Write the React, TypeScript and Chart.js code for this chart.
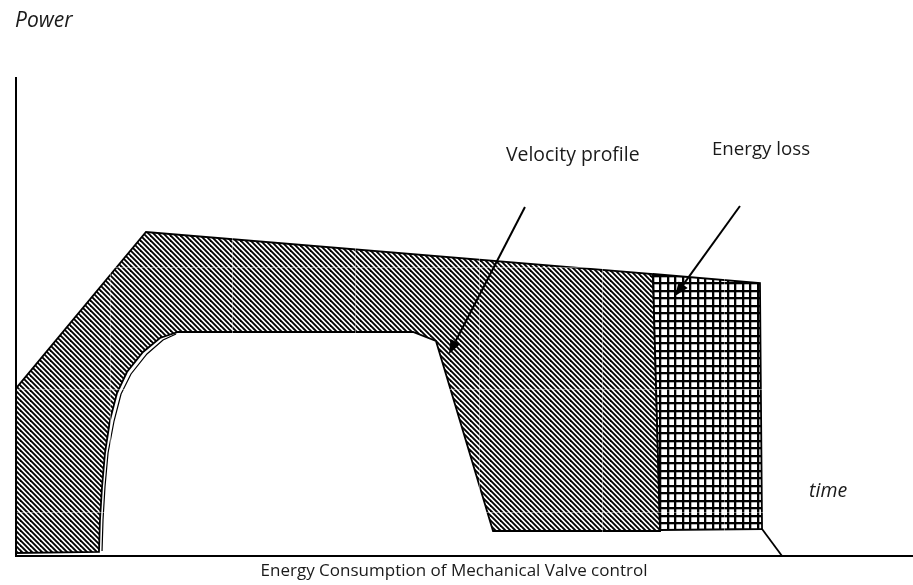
import React, { useEffect, useRef } from "react";
import { Chart, registerables } from "chart.js";

Chart.register(...registerables);

// Time axis 0..100, power axis 0..100 (arbitrary units)
const HATCH_T = [0, 14.49, 71.01, 71.8, 53.18, 46.82, 44.26, 18.06, 16.05, 14.16, 12.37, 11.26, 10.48, 9.92, 9.59, 9.36, 9.25, 0, 0];
const HATCH_P = [35.08, 67.78, 59.0, 5.23, 5.23, 44.98, 46.86, 46.86, 45.61, 42.68, 38.49, 34.1, 28.45, 21.55, 14.44, 7.53, 0.84, 0.63, 35.08];

const INNER_T = [17.84, 16.39, 14.6, 12.82, 11.71, 10.93, 10.26, 9.92, 9.7, 9.59];
const INNER_P = [46.44, 45.19, 42.26, 38.08, 33.89, 28.24, 21.55, 14.44, 7.53, 1.05];

const LOSS_T = [71.01, 82.94, 83.17, 71.8, 71.01];
const LOSS_P = [59.0, 57.11, 5.65, 5.44, 59.0];

const TAIL_T = [83.17, 85.4];
const TAIL_P = [5.65, 0];

const GRID_T = [10.48, 24.19, 37.9, 51.62, 65.33, 79.04, 92.75];
const GRID_P = [9.0, 34.73, 60.46, 86.19];

const ARROW_VELOCITY = [56.74, 73.01, 48.27, 42.26];
const ARROW_LOSS = [80.71, 73.22, 73.47, 54.39];

const LABEL_TEXT = ["Power", "Velocity profile", "Energy loss", "time"];
const LABEL_T = [-0.11, 54.63, 77.59, 88.41];
const LABEL_P = [110.67, 82.64, 83.89, 12.34];
const LABEL_SIZE = [21, 19.4, 18.7, 19.5];
const LABEL_ITALIC = [true, false, false, true];

const TITLE = "Energy Consumption of Mechanical Valve control";
const TITLE_T = 48.83; // horizontal centre of the caption, in time units
const TITLE_P = -4.18; // caption baseline, in power units

const FONT = "'Open Sans', sans-serif";

function pts(t: number[], p: number[]) {
  return t.map((x, i) => ({ x, y: p[i] }));
}

function makeHatch(): CanvasPattern | string {
  const p = 5;
  const size = 10;
  const c = document.createElement("canvas");
  c.width = size;
  c.height = size;
  const g = c.getContext("2d");
  if (!g) return "#888";
  g.fillStyle = "#fff";
  g.fillRect(0, 0, size, size);
  g.strokeStyle = "#000";
  g.lineWidth = 1.9;
  for (let k = -6; k <= 6; k++) {
    g.beginPath();
    g.moveTo(k * p - 2, -2);
    g.lineTo(k * p + size + 2, size + 2);
    g.stroke();
  }
  return g.createPattern(c, "repeat") || "#888";
}

function makeGrid(): CanvasPattern | string {
  const size = 15;
  const c = document.createElement("canvas");
  c.width = size;
  c.height = size;
  const g = c.getContext("2d");
  if (!g) return "#888";
  g.fillStyle = "#fff";
  g.fillRect(0, 0, size, size);
  g.fillStyle = "rgba(0,0,0,0.3)";
  for (const o of [9, 1]) g.fillRect(o, 0, 1, size);
  for (const o of [7, 14]) g.fillRect(0, o, size, 1);
  g.fillStyle = "#000";
  for (const o of [7, 14]) {
    g.fillRect(o, 0, 2, size);
    g.fillRect(o - size, 0, 2, size);
  }
  for (const o of [5, 12]) {
    g.fillRect(0, o, size, 2);
  }
  return g.createPattern(c, "repeat") || "#888";
}

const annotations = {
  id: "annotations",
  afterDraw(chart: any) {
    const { ctx, scales } = chart;
    const xs = scales.x;
    const ys = scales.y;
    const px = (v: number) => xs.getPixelForValue(v);
    const py = (v: number) => ys.getPixelForValue(v);
    ctx.save();
    const arrow = (a: number[]) => {
      const x0 = px(a[0]), y0 = py(a[1]), x1 = px(a[2]), y1 = py(a[3]);
      const ang = Math.atan2(y1 - y0, x1 - x0);
      const len = 14, half = 5.5;
      const bx = x1 - len * Math.cos(ang), by = y1 - len * Math.sin(ang);
      ctx.strokeStyle = "#000";
      ctx.lineWidth = 2;
      ctx.beginPath();
      ctx.moveTo(x0, y0);
      ctx.lineTo(bx, by);
      ctx.stroke();
      ctx.fillStyle = "#000";
      ctx.beginPath();
      ctx.moveTo(x1, y1);
      ctx.lineTo(bx + half * Math.sin(ang), by - half * Math.cos(ang));
      ctx.lineTo(bx - half * Math.sin(ang), by + half * Math.cos(ang));
      ctx.closePath();
      ctx.fill();
    };
    arrow(ARROW_VELOCITY);
    arrow(ARROW_LOSS);
    ctx.fillStyle = "#1a1a1a";
    ctx.textAlign = "left";
    ctx.textBaseline = "alphabetic";
    LABEL_TEXT.forEach((t, i) => {
      ctx.font = (LABEL_ITALIC[i] ? "italic " : "") + LABEL_SIZE[i] + "px " + FONT;
      ctx.fillText(t, px(LABEL_T[i]), py(LABEL_P[i]));
    });
    ctx.font = "17px " + FONT;
    ctx.textAlign = "center";
    ctx.fillText(TITLE, px(TITLE_T), py(TITLE_P));
    ctx.restore();
  },
};

export default function App() {
  const ref = useRef<HTMLCanvasElement | null>(null);
  useEffect(() => {
    if (!ref.current) return;
    const hatch = makeHatch();
    const grid = makeGrid();
    const chart = new Chart(ref.current, {
      type: "scatter",
      data: {
        datasets: [
          {
            data: pts(TAIL_T, TAIL_P),
            showLine: true,
            borderColor: "#000",
            borderWidth: 1.8,
            pointRadius: 0,
            fill: false,
            clip: false,
          } as any,
          {
            data: pts(INNER_T, INNER_P),
            showLine: true,
            borderColor: "#000",
            borderWidth: 1.2,
            pointRadius: 0,
            fill: false,
            clip: false,
          } as any,
          {
            data: pts(LOSS_T, LOSS_P),
            showLine: true,
            borderColor: "#000",
            borderWidth: 1.8,
            backgroundColor: grid,
            pointRadius: 0,
            fill: "shape",
            clip: false,
          } as any,
          {
            data: pts(HATCH_T, HATCH_P),
            showLine: true,
            borderColor: "#000",
            borderWidth: 1.8,
            backgroundColor: hatch,
            pointRadius: 0,
            fill: "shape",
            clip: false,
          } as any,
        ],
      },
      options: {
        animation: false,
        responsive: true,
        maintainAspectRatio: false,
        events: [],
        layout: { padding: { left: 16, top: 78, right: 0, bottom: 29 } },
        plugins: {
          legend: { display: false },
          tooltip: { enabled: false },
          title: { display: false },
        },
        scales: {
          x: {
            type: "linear",
            min: 0,
            max: 100,
            afterBuildTicks: (s: any) => {
              s.ticks = GRID_T.map((v) => ({ value: v }));
            },
            ticks: { display: false },
            grid: { color: "rgba(255,255,255,0.4)", lineWidth: 1, drawTicks: false, z: 1 } as any,
            border: { color: "#000", width: 2, z: 2 } as any,
          },
          y: {
            type: "linear",
            min: 0,
            max: 100,
            afterBuildTicks: (s: any) => {
              s.ticks = GRID_P.map((v) => ({ value: v }));
            },
            ticks: { display: false },
            grid: { color: "rgba(255,255,255,0.4)", lineWidth: 1, drawTicks: false, z: 1 } as any,
            border: { color: "#000", width: 2, z: 2 } as any,
          },
        },
      },
      plugins: [annotations],
    });
    return () => chart.destroy();
  }, []);
  return (
    <div style={{ position: "absolute", left: 0, top: 0, width: 913, height: 585, background: "#fff" }}>
      <canvas ref={ref} />
    </div>
  );
}
